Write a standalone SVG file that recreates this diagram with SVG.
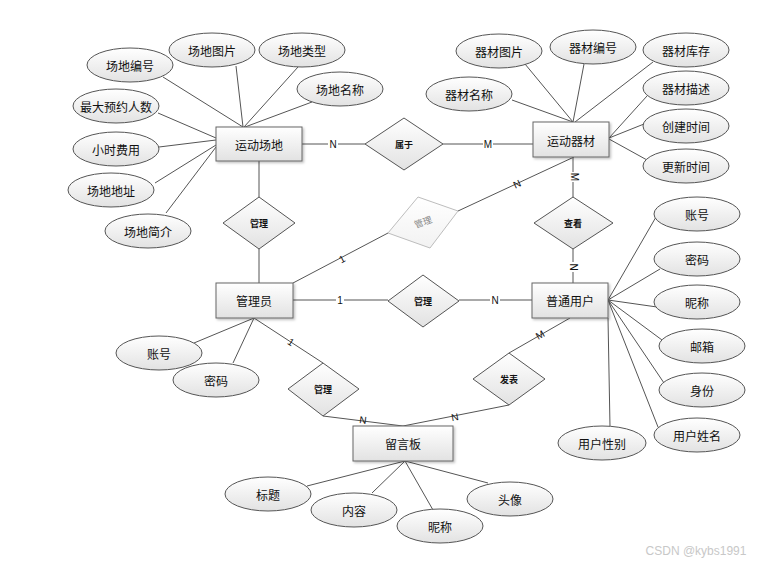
<svg xmlns="http://www.w3.org/2000/svg" width="766" height="564" viewBox="0 0 766 564">
<defs>
<linearGradient id="g" x1="0" y1="0" x2="0" y2="1"><stop offset="0" stop-color="#ffffff"/><stop offset="1" stop-color="#e2e2e2"/></linearGradient>
<linearGradient id="gf" x1="0" y1="0" x2="0" y2="1"><stop offset="0" stop-color="#ffffff"/><stop offset="1" stop-color="#f2f2f2"/></linearGradient>
<filter id="sh" x="-10%" y="-10%" width="130%" height="140%"><feDropShadow dx="1.5" dy="1.5" stdDeviation="1" flood-color="#000" flood-opacity="0.25"/></filter>
</defs>
<style>
.e{fill:url(#g);stroke:#666;stroke-width:1;filter:url(#sh)}
.a{fill:url(#g);stroke:#555;stroke-width:1}
.d{fill:url(#g);stroke:#555;stroke-width:1}
.t{font-family:"Noto Sans CJK SC","Liberation Sans",sans-serif;font-size:12px;fill:#111;text-anchor:middle;dominant-baseline:central}
.ts{font-family:"Noto Sans CJK SC","Liberation Sans",sans-serif;font-size:9px;font-weight:bold;fill:#111;text-anchor:middle;dominant-baseline:central}
.c line{stroke:#555;stroke-width:1}
.l{font-family:"Liberation Sans",sans-serif;font-size:10px;fill:#111;text-anchor:middle;dominant-baseline:central}
.lb{fill:#fff}
</style>
<rect width="766" height="564" fill="#fff"/>
<g class="c" id="connectors">
<line x1="163" y1="77" x2="243" y2="127"/>
<line x1="236" y1="66" x2="243" y2="127"/>
<line x1="298" y1="67" x2="244" y2="127"/>
<line x1="312" y1="102" x2="245" y2="127"/>
<line x1="158" y1="113" x2="216" y2="138"/>
<line x1="159" y1="147" x2="216" y2="140"/>
<line x1="155" y1="183" x2="216" y2="145"/>
<line x1="166" y1="213" x2="216" y2="147"/>
<line x1="525" y1="64" x2="573" y2="122"/>
<line x1="584" y1="64" x2="573" y2="122"/>
<line x1="653" y1="62" x2="575" y2="122"/>
<line x1="512" y1="100" x2="573" y2="122"/>
<line x1="647" y1="96" x2="609" y2="138"/>
<line x1="644" y1="124" x2="609" y2="138"/>
<line x1="609" y1="139" x2="647" y2="160"/>
<line x1="302" y1="144" x2="365" y2="144"/>
<line x1="443" y1="144" x2="533" y2="144"/>
<line x1="259" y1="161" x2="259" y2="197"/>
<line x1="259" y1="249" x2="259" y2="283"/>
<line x1="574" y1="157" x2="458" y2="211"/>
<line x1="293" y1="283" x2="388" y2="233"/>
<line x1="573" y1="157" x2="573" y2="197"/>
<line x1="573" y1="249" x2="573" y2="283"/>
<line x1="293" y1="300" x2="388" y2="300"/>
<line x1="459" y1="300" x2="532" y2="300"/>
<line x1="608" y1="300" x2="656" y2="217"/>
<line x1="608" y1="300" x2="660" y2="269"/>
<line x1="608" y1="300" x2="657" y2="307"/>
<line x1="608" y1="300" x2="662" y2="340"/>
<line x1="608" y1="300" x2="664" y2="383"/>
<line x1="608" y1="300" x2="658" y2="427"/>
<line x1="608" y1="318" x2="610" y2="427"/>
<line x1="570" y1="318" x2="509" y2="353"/>
<line x1="509" y1="405" x2="403" y2="426"/>
<line x1="254" y1="318" x2="323" y2="363"/>
<line x1="323" y1="416" x2="403" y2="426"/>
<line x1="254" y1="318" x2="194" y2="343"/>
<line x1="254" y1="318" x2="233" y2="363"/>
<line x1="405" y1="461" x2="307" y2="486"/>
<line x1="405" y1="461" x2="372" y2="493"/>
<line x1="405" y1="461" x2="433" y2="510"/>
<line x1="405" y1="461" x2="488" y2="483"/>
</g>
<g id="labels">
<rect class="lb" x="328" y="138" width="10" height="12"/><text class="l" x="333" y="144">N</text>
<rect class="lb" x="483" y="138" width="10" height="12"/><text class="l" x="488" y="144">M</text>
<rect class="lb" x="568" y="172" width="12" height="10"/><text class="l" x="574" y="177" transform="rotate(90 574 177)">M</text>
<rect class="lb" x="568" y="262" width="12" height="10"/><text class="l" x="573" y="267" transform="rotate(90 573 267)">N</text>
<text class="l" x="517" y="184" transform="rotate(-25 517 184)">N</text>
<text class="l" x="342" y="259" transform="rotate(-28 342 259)">1</text>
<rect class="lb" x="336" y="294" width="8" height="12"/><text class="l" x="340" y="300">1</text>
<rect class="lb" x="490" y="294" width="10" height="12"/><text class="l" x="495" y="300">N</text>
<text class="l" x="540" y="335" transform="rotate(-30 540 335)">M</text>
<text class="l" x="455" y="417" transform="rotate(-11 455 417)">N</text>
<text class="l" x="291" y="342" transform="rotate(33 291 342)">1</text>
<text class="l" x="363" y="420" transform="rotate(7 363 420)">N</text>
</g>
<g id="e-changdi"><rect class="e" x="216" y="127" width="86" height="34"/><text class="t" x="259" y="144">运动场地</text></g>
<g id="e-qicai"><rect class="e" x="533" y="122" width="76" height="35"/><text class="t" x="571" y="140">运动器材</text></g>
<g id="e-admin"><rect class="e" x="216" y="283" width="77" height="35"/><text class="t" x="254" y="300">管理员</text></g>
<g id="e-user"><rect class="e" x="532" y="283" width="76" height="35"/><text class="t" x="570" y="300">普通用户</text></g>
<g id="e-board"><rect class="e" x="353" y="426" width="100" height="35"/><text class="t" x="403" y="443">留言板</text></g>
<g id="r-shuyu"><polygon class="d" points="404,118 443,144 404,170 365,144"/><text class="ts" x="404" y="144">属于</text></g>
<g id="r-guanli1"><polygon class="d" points="259,197 295,223 259,249 223,223"/><text class="ts" x="259" y="223">管理</text></g>
<g id="r-guanli-faded"><polygon fill="url(#gf)" stroke="#bdbdbd" points="418,197 458,211 430,248 388,233"/><text class="ts" x="423" y="222" fill="#888" style="fill:#888;font-weight:normal" transform="rotate(-20 423 222)">管理</text></g>
<g id="r-chakan"><polygon class="d" points="573,197 613,223 573,249 534,223"/><text class="ts" x="573" y="223">查看</text></g>
<g id="r-guanli2"><polygon class="d" points="423,275 459,301 423,327 388,301"/><text class="ts" x="423" y="301">管理</text></g>
<g id="r-guanli3"><polygon class="d" points="323,363 359,389 323,416 288,389"/><text class="ts" x="323" y="389">管理</text></g>
<g id="r-fabiao"><polygon class="d" points="509,353 545,379 509,405 473,379"/><text class="ts" x="509" y="379">发表</text></g>
<g id="a1"><ellipse class="a" cx="130" cy="65" rx="43" ry="17"/><text class="t" x="130" y="65">场地编号</text></g>
<g id="a2"><ellipse class="a" cx="212" cy="50" rx="43" ry="17"/><text class="t" x="212" y="50">场地图片</text></g>
<g id="a3"><ellipse class="a" cx="302" cy="50" rx="43" ry="17"/><text class="t" x="302" y="50">场地类型</text></g>
<g id="a4"><ellipse class="a" cx="340" cy="89" rx="43" ry="17"/><text class="t" x="340" y="89">场地名称</text></g>
<g id="a5"><ellipse class="a" cx="116" cy="106" rx="43" ry="17"/><text class="t" x="116" y="106">最大预约人数</text></g>
<g id="a6"><ellipse class="a" cx="116" cy="149" rx="43" ry="17"/><text class="t" x="116" y="149">小时费用</text></g>
<g id="a7"><ellipse class="a" cx="111" cy="190" rx="43" ry="17"/><text class="t" x="111" y="190">场地地址</text></g>
<g id="a8"><ellipse class="a" cx="148" cy="231" rx="43" ry="17"/><text class="t" x="148" y="231">场地简介</text></g>
<g id="b1"><ellipse class="a" cx="499" cy="51" rx="43" ry="17"/><text class="t" x="499" y="51">器材图片</text></g>
<g id="b2"><ellipse class="a" cx="593" cy="47" rx="43" ry="17"/><text class="t" x="593" y="47">器材编号</text></g>
<g id="b3"><ellipse class="a" cx="686" cy="50" rx="43" ry="17"/><text class="t" x="686" y="50">器材库存</text></g>
<g id="b4"><ellipse class="a" cx="469" cy="94" rx="43" ry="17"/><text class="t" x="469" y="94">器材名称</text></g>
<g id="b5"><ellipse class="a" cx="686" cy="88" rx="43" ry="17"/><text class="t" x="686" y="88">器材描述</text></g>
<g id="b6"><ellipse class="a" cx="686" cy="126" rx="43" ry="17"/><text class="t" x="686" y="126">创建时间</text></g>
<g id="b7"><ellipse class="a" cx="686" cy="166" rx="43" ry="17"/><text class="t" x="686" y="166">更新时间</text></g>
<g id="u1"><ellipse class="a" cx="697" cy="214" rx="43" ry="17"/><text class="t" x="697" y="214">账号</text></g>
<g id="u2"><ellipse class="a" cx="697" cy="259" rx="43" ry="17"/><text class="t" x="697" y="259">密码</text></g>
<g id="u3"><ellipse class="a" cx="697" cy="302" rx="43" ry="17"/><text class="t" x="697" y="302">昵称</text></g>
<g id="u4"><ellipse class="a" cx="702" cy="346" rx="43" ry="17"/><text class="t" x="702" y="346">邮箱</text></g>
<g id="u5"><ellipse class="a" cx="702" cy="390" rx="43" ry="17"/><text class="t" x="702" y="390">身份</text></g>
<g id="u6"><ellipse class="a" cx="697" cy="435" rx="43" ry="17"/><text class="t" x="697" y="435">用户姓名</text></g>
<g id="u7"><ellipse class="a" cx="602" cy="443" rx="44" ry="17"/><text class="t" x="602" y="443">用户性别</text></g>
<g id="m1"><ellipse class="a" cx="159" cy="353" rx="43" ry="17"/><text class="t" x="159" y="353">账号</text></g>
<g id="m2"><ellipse class="a" cx="216" cy="380" rx="43" ry="17"/><text class="t" x="216" y="380">密码</text></g>
<g id="c1"><ellipse class="a" cx="268" cy="494" rx="43" ry="17"/><text class="t" x="268" y="494">标题</text></g>
<g id="c2"><ellipse class="a" cx="354" cy="510" rx="43" ry="17"/><text class="t" x="354" y="510">内容</text></g>
<g id="c3"><ellipse class="a" cx="440" cy="526" rx="43" ry="17"/><text class="t" x="440" y="526">昵称</text></g>
<g id="c4"><ellipse class="a" cx="510" cy="499" rx="43" ry="17"/><text class="t" x="510" y="499">头像</text></g>
<text x="696" y="551" font-family="Liberation Sans, sans-serif" font-size="12" fill="#c8c8c8" text-anchor="middle" dominant-baseline="central">CSDN @kybs1991</text>
</svg>
